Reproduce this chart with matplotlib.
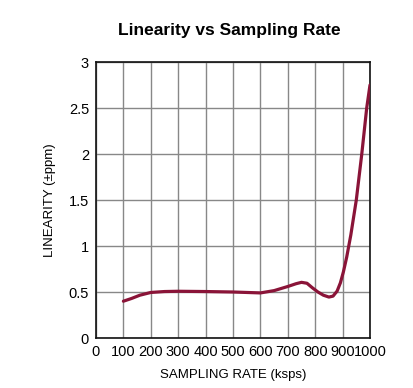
import matplotlib
matplotlib.use("Agg")
import matplotlib.pyplot as plt

font = "Liberation Sans"

rate = [100, 130, 160, 200, 250, 300, 400, 500, 600, 650, 700, 730, 750, 770, 790, 810,
        830, 850, 865, 880, 892, 903, 915, 930, 950, 970, 988, 1000]
linearity = [0.40, 0.43, 0.465, 0.495, 0.505, 0.508, 0.505, 0.50, 0.49, 0.515, 0.56, 0.59, 0.605, 0.595, 0.545, 0.50,
             0.465, 0.445, 0.455, 0.51, 0.60, 0.72, 0.88, 1.12, 1.50, 2.00, 2.50, 2.75]

xticks = [0, 100, 200, 300, 400, 500, 600, 700, 800, 900, 1000]
yticks = [0, 0.5, 1, 1.5, 2, 2.5, 3]
ytick_labels = ["0", "0.5", "1", "1.5", "2", "2.5", "3"]

fig = plt.figure(figsize=(4.14, 3.88), dpi=100)
ax = fig.add_axes([96/414, 1-338/388, 274/414, 276/388])
ax.plot(rate, linearity, color="#8a1438", lw=2.3, solid_capstyle="round", solid_joinstyle="round", zorder=3)
ax.set_xlim(0, 1000)
ax.set_ylim(0, 3)
ax.set_xticks(xticks)
ax.set_xticklabels([str(t) for t in xticks], fontsize=10.5, family=font)
ax.set_yticks(yticks)
ax.set_yticklabels(ytick_labels, fontsize=10.5, family=font)
ax.tick_params(length=0, pad=5)
ax.grid(True, color="#888888", lw=1)
for s in ax.spines.values():
    s.set_color("#111111")
    s.set_linewidth(1.2)
ax.set_xlabel("SAMPLING RATE (ksps)", fontsize=9.5, family=font, labelpad=7)
ax.set_ylabel("LINEARITY (±ppm)", fontsize=9.5, family=font, labelpad=9)
fig.text(229/414, 1-30/388, "Linearity vs Sampling Rate", ha="center", va="center",
         fontsize=12.5, fontweight="bold", family=font)
fig.savefig("out.png", dpi=100)
